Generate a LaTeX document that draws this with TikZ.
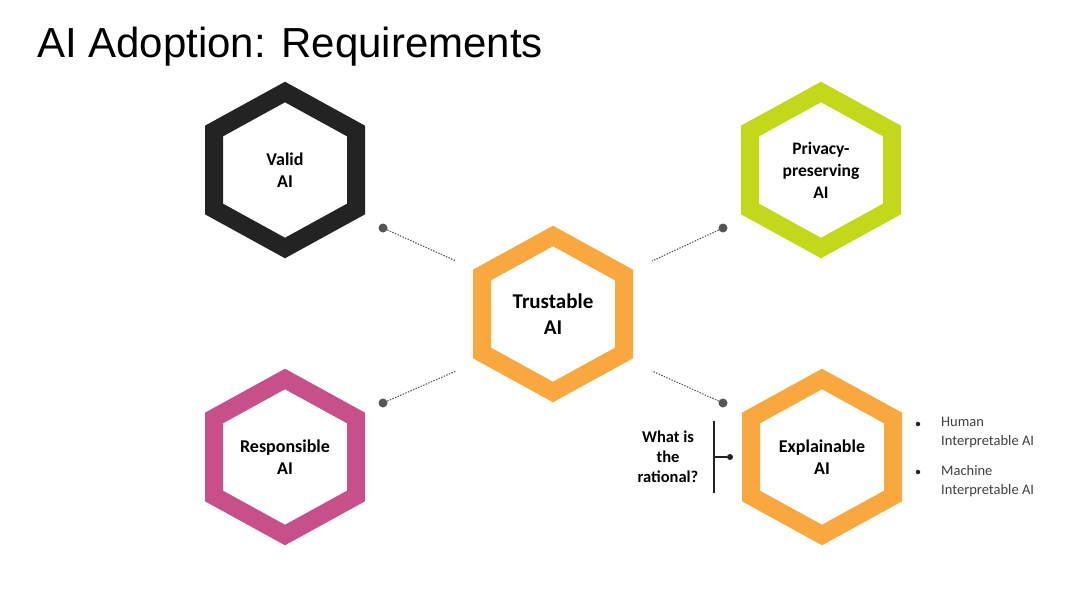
\documentclass[tikz,border=0pt]{standalone}
\usepackage{fontspec}
\setmainfont{Carlito}
\newfontfamily\titlefont{Liberation Sans}
\definecolor{hexblack}{HTML}{232323}
\definecolor{hexlime}{HTML}{C3D81A}
\definecolor{hexorange}{HTML}{F9A83F}
\definecolor{hexpink}{HTML}{C8508A}
\definecolor{dotgray}{HTML}{555555}
\definecolor{txtgray}{HTML}{404040}
\begin{document}
\begin{tikzpicture}[x=1pt,y=-1pt,
  hexring/.style={line width=18pt, line join=miter},
  hexlabel/.style={align=center, font=\bfseries\fontsize{18}{22.5}\selectfont, text=black, inner sep=0pt},
  joint/.style={circle, fill=dotgray, inner sep=0pt, minimum size=9pt},
  smalljoint/.style={circle, fill=hexblack, inner sep=0pt, minimum size=6pt},
  link/.style={dotgray, line width=1.1pt, dash pattern=on 1.4pt off 1.4pt},
  bullet/.style={circle, fill=hexblack, inner sep=0pt, minimum size=4.5pt},
  bullettext/.style={anchor=west, align=left, font=\fontsize{14.5}{19}\selectfont, text=txtgray, inner sep=0pt}
]
\useasboundingbox[fill=white] (0,0) rectangle (1080,608);

\newcommand{\hexagon}[2]{%
  \draw[hexring, draw=#2] (#1)++(0,-78) -- ++(71,39) -- ++(0,78) -- ++(-71,39) -- ++(-71,-39) -- ++(0,-78) -- cycle;}

% title
\node[anchor=base west, inner sep=0pt, font=\titlefont\fontsize{42}{50}\selectfont] (title) at (37,57) {AI Adoption: Requirements};

% hexagons
\coordinate (cvalid) at (285,170);
\coordinate (cpriv) at (821,170);
\coordinate (ctrust) at (553,314);
\coordinate (cresp) at (285,457);
\coordinate (cexpl) at (822,457);
\hexagon{cvalid}{hexblack}
\hexagon{cpriv}{hexlime}
\hexagon{ctrust}{hexorange}
\hexagon{cresp}{hexpink}
\hexagon{cexpl}{hexorange}

\node[hexlabel] (valid) at (cvalid) {Valid\\AI};
\node[hexlabel, font=\bfseries\fontsize{17.5}{22}\selectfont] (priv) at (cpriv) {Privacy-\\preserving\\AI};
\node[hexlabel, font=\bfseries\fontsize{21}{26}\selectfont] (trust) at (ctrust) {Trustable\\AI};
\node[hexlabel] (resp) at (cresp) {Responsible\\AI};
\node[hexlabel] (expl) at (cexpl) {Explainable\\AI};

% connectors
\node[joint] (dvalid) at (383,228) {};
\node[joint] (dpriv) at (723,228) {};
\node[joint] (dresp) at (383,403) {};
\node[joint] (dexpl) at (723,403) {};
\coordinate (tl) at (456,261);
\coordinate (tr) at (652,261);
\coordinate (bl) at (456,371);
\coordinate (br) at (652,371);
\draw[link] (dvalid) -- (tl);
\draw[link] (dpriv) -- (tr);
\draw[link] (dresp) -- (bl);
\draw[link] (dexpl) -- (br);

% rationale bracket
\node[hexlabel, font=\bfseries\fontsize{16.5}{20}\selectfont] (why) at (668,457) {What is\\the\\rational?};
\coordinate (btop) at (714,421);
\coordinate (bbot) at (714,493);
\coordinate (bmid) at (714,457);
\node[smalljoint] (dwhy) at (730,457) {};
\draw[hexblack, line width=1.4pt] (btop) -- (bbot);
\draw[hexblack, line width=1.4pt] (bmid) -- (dwhy);

% bullets
\node[bullet] (b1) at (918,424) {};
\node[bullet] (b2) at (918,472) {};
\node[bullettext] (t1) at (941,433) {Human\\Interpretable AI};
\node[bullettext] (t2) at (941,481) {Machine\\Interpretable AI};
\end{tikzpicture}
\end{document}
